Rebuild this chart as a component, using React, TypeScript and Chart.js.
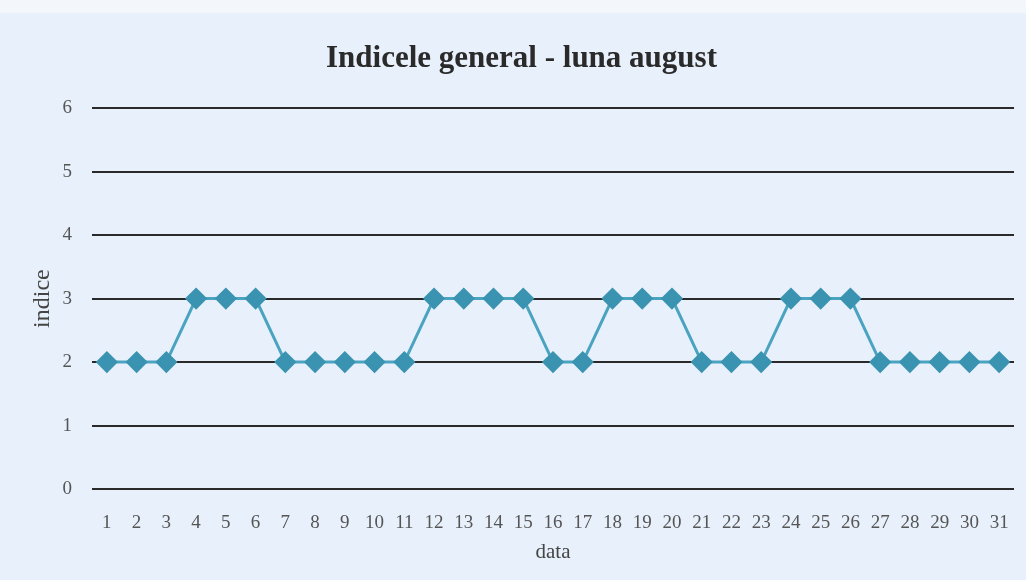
import React, { useEffect, useRef } from "react";
import { Chart, registerables } from "chart.js";

Chart.register(...registerables);

const days: string[] = Array.from({ length: 31 }, (_, i) => String(i + 1));
const indexValues: number[] = [2, 2, 2, 3, 3, 3, 2, 2, 2, 2, 2, 3, 3, 3, 3, 2, 2, 3, 3, 3, 2, 2, 2, 3, 3, 3, 2, 2, 2, 2, 2];
const chartTitle = "Indicele general - luna august";
const xTitle = "data";
const yTitle = "indice";

export default function App() {
  const ref = useRef<HTMLCanvasElement | null>(null);
  useEffect(() => {
    document.body.style.margin = "0";
    const ctx = ref.current!;
    const serif = "'Liberation Serif', 'Times New Roman', serif";
    const chart = new Chart(ctx, {
      type: "line",
      data: {
        labels: days,
        datasets: [
          {
            data: indexValues,
            borderColor: "#4aa3c0",
            backgroundColor: "#3a93b0",
            pointBackgroundColor: "#3a93b0",
            pointBorderColor: "#3a93b0",
            borderWidth: 3,
            pointStyle: "rectRot",
            pointRadius: 9,
            tension: 0,
          },
        ],
      },
      options: {
        animation: false,
        responsive: false,
        layout: { padding: { left: 28, right: 11, top: 0, bottom: 15 } },
        plugins: {
          legend: { display: false },
          tooltip: { enabled: false },
          title: {
            display: true,
            text: chartTitle,
            color: "#2a2a2a",
            font: { family: serif, size: 31, weight: "bold" },
            padding: { top: 40, bottom: 31 },
          },
        },
        scales: {
          x: {
            offset: true,
            grid: { display: false },
            border: { display: false },
            ticks: { color: "#555", font: { family: serif, size: 19 }, padding: 15, maxRotation: 0, autoSkip: false },
            title: { display: true, text: xTitle, color: "#444", font: { family: serif, size: 21 }, padding: { top: 4, bottom: 0 } },
            afterFit: (axis: any) => { axis.height = 76; },
          },
          y: {
            min: 0,
            max: 6,
            ticks: { stepSize: 1, color: "#555", font: { family: serif, size: 19 }, padding: 20 },
            grid: { color: "#2a2a2a", lineWidth: 2, drawTicks: false },
            border: { display: false },
            title: { display: true, text: yTitle, color: "#444", font: { family: serif, size: 24 }, padding: { top: 0, bottom: 0 } },
            afterFit: (axis: any) => { axis.width = 64; },
          },
        },
      },
    });
    return () => chart.destroy();
  }, []);
  return (
    <div style={{ width: 1026, height: 580, background: "linear-gradient(#f3f6fa 0 13px, #e8f0fb 13px)" }}>
      <canvas ref={ref} width={1026} height={580} style={{ display: "block" }} />
    </div>
  );
}
